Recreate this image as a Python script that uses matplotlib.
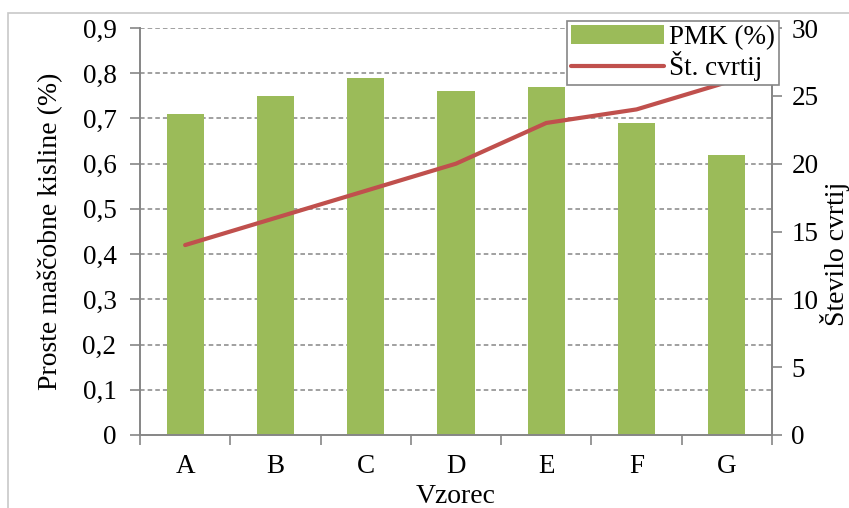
import matplotlib
matplotlib.use("Agg")
import matplotlib.pyplot as plt
from matplotlib.patches import Rectangle
from matplotlib.ticker import FixedLocator, FuncFormatter
import numpy as np

plt.rcParams["font.family"] = ["Liberation Serif", "DejaVu Serif"]

# ── podatki ─────────────────────────────────────────
vzorci = ["A", "B", "C", "D", "E", "F", "G"]
pmk = [0.71, 0.75, 0.79, 0.76, 0.77, 0.69, 0.62]
st_cvrtij = [14, 16, 18, 20, 23, 24, 26]

GREEN = "#9BBB59"
RED = "#C0504D"
AXIS = "#868686"
FS = 19.5

fig = plt.figure(figsize=(8.49, 5.08), dpi=100)
# okvir grafa (levi in zgornji rob)
fig.patches.append(Rectangle((8 / 849, -0.1), 1.2, 1 - 13 / 508 + 0.1,
                             transform=fig.transFigure, fill=False,
                             edgecolor="#C8C8C8", linewidth=1.2))

ax = fig.add_axes([140 / 849, 1 - 435 / 508, 632 / 849, 407 / 508])
x = np.arange(len(vzorci))
bars = ax.bar(x, pmk, width=0.41, color=GREEN, zorder=2, label="PMK (%)")

ax.set_xlim(-0.5, len(vzorci) - 0.5)
ax.set_ylim(0, 0.9)
ax.set_yticks(np.arange(0, 0.91, 0.1))
ax.yaxis.set_major_formatter(FuncFormatter(lambda v, p: f"{v:.1f}".replace(".", ",").replace("0,0", "0")))
ax.set_xticks(x)
ax.set_xticklabels(vzorci)
ax.xaxis.set_minor_locator(FixedLocator(np.arange(-0.5, len(vzorci), 1.0)))
ax.tick_params(axis="x", which="major", length=0, pad=14, labelsize=FS)
ax.tick_params(axis="x", which="minor", length=7, width=1.2, color=AXIS, direction="out")
ax.tick_params(axis="y", length=7, width=1.2, color=AXIS, direction="out", pad=10, labelsize=FS)

for yv in np.arange(0.1, 0.91, 0.1):
    ax.axhline(yv, color=AXIS, linestyle=(0, (3, 2)), linewidth=1.1, zorder=1)

ax.spines["top"].set_visible(False)
for s in ["left", "bottom", "right"]:
    ax.spines[s].set_color(AXIS)
    ax.spines[s].set_linewidth(1.4)

ax.set_ylabel("Proste maščobne kisline (%)", fontsize=FS + 0.5, labelpad=14)
ax.set_xlabel("Vzorec", fontsize=FS + 0.5, labelpad=3)

ax2 = ax.twinx()
line, = ax2.plot(x, st_cvrtij, color=RED, linewidth=3, solid_capstyle="round",
                 label="Št. cvrtij", zorder=3)
ax2.set_ylim(0, 30)
ax2.set_yticks(np.arange(0, 31, 5))
ax2.tick_params(axis="y", length=7, width=1.2, color=AXIS, direction="out", pad=7, labelsize=FS)
for s in ["top", "left", "bottom"]:
    ax2.spines[s].set_visible(False)
ax2.spines["right"].set_color(AXIS)
ax2.spines["right"].set_linewidth(1.4)
ax2.set_ylabel("Število cvrtij", fontsize=FS + 0.5, labelpad=0)
ax2.yaxis.set_label_coords(835 / 849, 0.5, transform=fig.transFigure)
ax2.yaxis.label.set_verticalalignment("center")

leg = ax2.legend([bars, line], ["PMK (%)", "Št. cvrtij"], loc="upper right",
                 bbox_to_anchor=(779 / 849, 1 - 21 / 508), bbox_transform=fig.transFigure,
                 fontsize=FS, frameon=True, fancybox=False, framealpha=1,
                 edgecolor=AXIS, handlelength=3.4, handleheight=0.7,
                 borderpad=0.15, labelspacing=0.05, handletextpad=0.2, borderaxespad=0)
leg.get_frame().set_linewidth(1.2)

fig.savefig("out.png", dpi=100)
